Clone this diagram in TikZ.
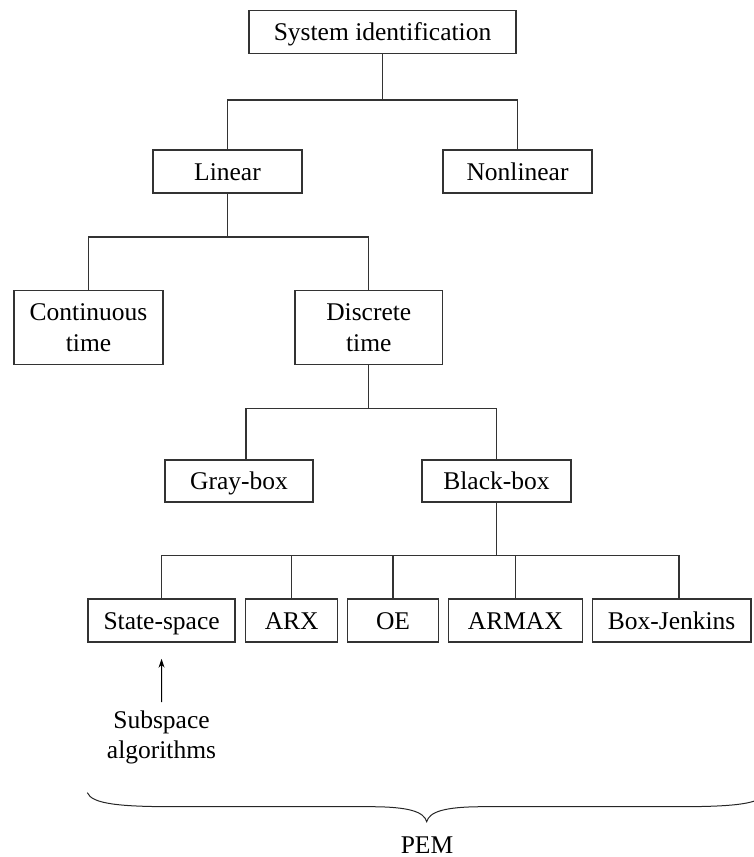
\documentclass[tikz,border=0pt]{standalone}
\usepackage{fontspec}
\setmainfont{Liberation Serif}
\usetikzlibrary{arrows.meta}
\begin{document}
\begin{tikzpicture}[x=1pt,y=-1pt,
  txt/.style={font=\fontsize{25.5}{31}\selectfont, text=black},
  box/.style={txt, draw=black!80, line width=1.3pt, inner sep=0pt},
  one/.style={box, text height=17pt, text depth=0pt},
  two/.style={box, align=center},
  sz/.style 2 args={minimum width=#1pt, minimum height=#2pt},
  link/.style={draw=black!80, line width=1.3pt},
  pointer/.style={draw=black, line width=1pt, -{Stealth[length=9pt,width=6pt]}},
  brace/.style={draw=black!85, line width=1pt}]
\useasboundingbox (0,0) rectangle (753,857);

% tree of methods
\node[one, sz={267}{43}]     (sys)   at (382.5,32)    {System identification};
\node[one, sz={149}{43}]     (lin)   at (227.5,171.5) {Linear};
\node[one, sz={149}{43}]     (non)   at (517.5,171.5) {Nonlinear};
\node[two, sz={149}{73.5}]   (cont)  at (88.5,327.5)  {Continuous\\time};
\node[two, sz={147.5}{73.5}] (disc)  at (368.75,327.5){Discrete\\time};
\node[one, sz={148}{42}]     (gray)  at (239,481)     {Gray-box};
\node[one, sz={149}{42}]     (black) at (496.5,481)   {Black-box};
\node[one, sz={147}{43}]     (ss)    at (161.6,620.6) {State-space};
\node[one, sz={92}{43}]      (arx)   at (291.7,620.6) {ARX};
\node[one, sz={90.6}{43}]    (oe)    at (393,620.6)   {OE};
\node[one, sz={134}{43}]     (armax) at (515.3,620.6) {ARMAX};
\node[one, sz={158.5}{43}]   (bj)    at (671.6,620.6) {Box-Jenkins};

% junction levels of the tree
\coordinate (j1) at (0,100);
\coordinate (j2) at (0,237);
\coordinate (j3) at (0,408.3);
\coordinate (j4) at (0,555.7);
\coordinate (gtop)  at ([xshift=7pt]gray.north);
\coordinate (bjtop) at ([xshift=7.4pt]bj.north);

\draw[link] (sys.south) -- (sys.south |- j1);
\draw[link] (lin.north) |- (non.north |- j1) -- (non.north);

\draw[link] (lin.south) -- (lin.south |- j2);
\draw[link] (cont.north) |- (disc.north |- j2) -- (disc.north);

\draw[link] (disc.south) -- (disc.south |- j3);
\draw[link] (gtop) |- (black.north |- j3) -- (black.north);

\draw[link] (black.south) -- (black.south |- j4);
\draw[link] (ss.north) |- (bjtop |- j4) -- (bjtop);
\foreach \n in {arx,oe,armax} \draw[link] (\n.north) -- (\n.north |- j4);

% subspace methods feed the state-space models
\node[txt, align=center, inner sep=0pt, anchor=north,
      font=\fontsize{25.5}{30}\selectfont] (sub) at (161.5,711) {Subspace\\algorithms};
\draw[pointer, shorten <=9pt, shorten >=16pt] (sub.north) -- (ss.south);

% brace grouping the prediction-error models
\draw[brace] (87.3,792.7) .. controls (92,804) and (120,806.7) .. (175,806.7)
  -- (370,806.7) .. controls (410,806.7) and (424,812) .. (426.7,821.7)
  .. controls (429.4,812) and (443.4,806.7) .. (483.4,806.7)
  -- (678.4,806.7) .. controls (733.4,806.7) and (761.4,804) .. (766.1,792.7);
\node[txt, anchor=base] (pem) at (427,853) {PEM};
\end{tikzpicture}
\end{document}
